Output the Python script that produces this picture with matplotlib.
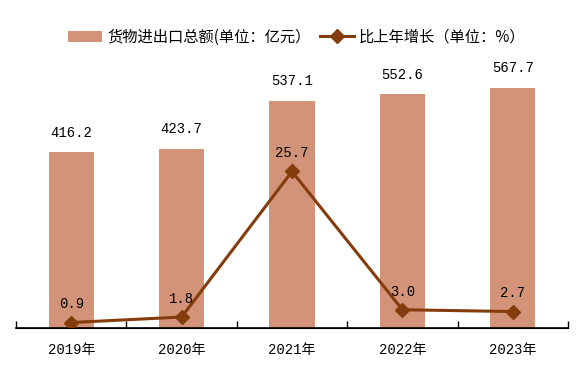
import numpy as np
import matplotlib.pyplot as plt

plt.rcParams['font.family'] = ['Noto Sans CJK SC', 'DejaVu Sans']
num_font = ['Liberation Mono', 'Noto Sans CJK SC']

years = ['2019年', '2020年', '2021年', '2022年', '2023年']
trade = [416.2, 423.7, 537.1, 552.6, 567.7]
growth = [0.9, 1.8, 25.7, 3.0, 2.7]

bar_color = '#D39378'
line_color = '#843C0C'

fig = plt.figure(figsize=(5.82, 3.83), dpi=100)
ax = fig.add_axes([16 / 582, 55 / 383, 552 / 582, 296 / 383])
x = np.arange(len(years))

bars = ax.bar(x, trade, width=0.41, color=bar_color, label='货物进出口总额(单位：亿元）', zorder=1)
ax.set_ylim(0, 700)
ax.set_xlim(-0.5, len(years) - 0.5)
for xi, v in zip(x, trade):
    ax.annotate(f'{v:.1f}', (xi, v), xytext=(0, 9), textcoords='offset points',
                ha='center', va='bottom', fontsize=10, family=num_font)

ax2 = ax.twinx()
ax2.set_ylim(0, 296 / 6.09)
line, = ax2.plot(x, growth, color=line_color, lw=2.2, marker='D', markersize=7,
                 label='比上年增长（单位：%）')
for xi, v in zip(x, growth):
    ax2.annotate(f'{v:.1f}', (xi, v), xytext=(0, 8), textcoords='offset points',
                 ha='center', va='bottom', fontsize=10, family=num_font)

for a in (ax, ax2):
    for s in ('top', 'right', 'left'):
        a.spines[s].set_visible(False)
    a.set_yticks([])
ax.spines['bottom'].set_color('black')
ax.spines['bottom'].set_linewidth(1.2)

ax.set_xticks(x)
ax.set_xticklabels(years, fontsize=10, family=num_font)
ax.tick_params(axis='x', which='major', length=0, pad=11)
ax.set_xticks(np.arange(-0.5, len(years)), minor=True)
ax.tick_params(axis='x', which='minor', direction='in', length=5, width=1, color='black')

fig.legend([bars, line], [bars.get_label(), line.get_label()], loc='center',
           bbox_to_anchor=(297 / 582, 1 - 37 / 383), ncol=2, frameon=False,
           prop={'size': 11}, handlelength=2.2, columnspacing=0.6, handletextpad=0.35)

fig.savefig('out.png', dpi=100)
